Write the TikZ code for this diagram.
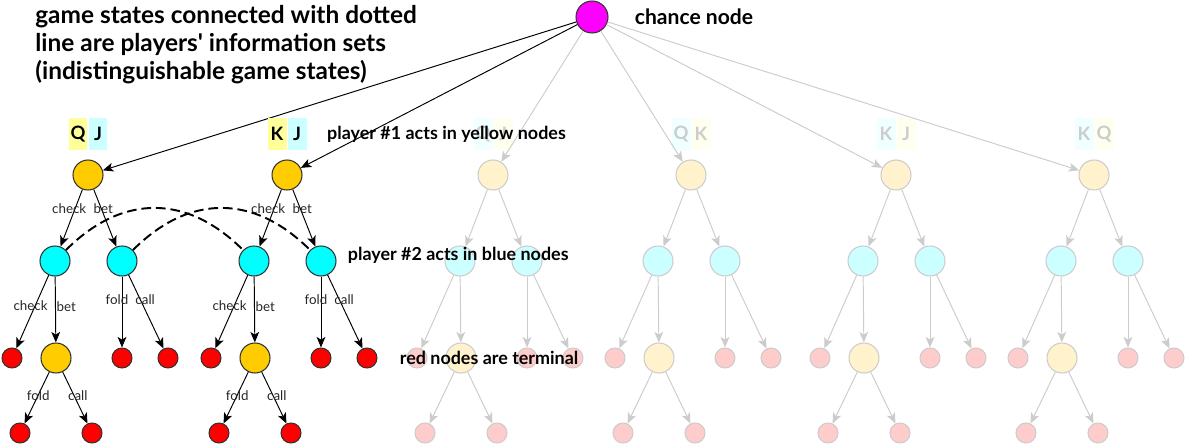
\documentclass[tikz,border=0pt]{standalone}
\usepackage{fontspec}
\setmainfont{Lato}
\usetikzlibrary{arrows.meta, positioning}
\definecolor{chancecol}{HTML}{FF00FF}
\definecolor{yellowfull}{HTML}{FFCC00}
\definecolor{bluefull}{HTML}{00FFFF}
\definecolor{redfull}{HTML}{FF0000}
\definecolor{yellowfade}{HTML}{FFF2CC}
\definecolor{bluefade}{HTML}{CCFFFF}
\definecolor{redfade}{HTML}{FFCCCC}
\definecolor{cardyel}{HTML}{FFFF99}
\definecolor{cardblue}{HTML}{CCFFFF}
\definecolor{cardyelfade}{HTML}{FFFFF0}
\definecolor{cardbluefade}{HTML}{F0FFFF}
\definecolor{fadeline}{HTML}{CCCCCC}
\definecolor{nodeline}{HTML}{333333}

\tikzset{
  dot/.style={circle, line width=0.6pt, inner sep=0pt},
  card/.style={minimum width=0.38cm, minimum height=0.66cm, inner sep=0pt, font=\bfseries\fontsize{10.5}{11}\selectfont},
  full/.style={
    p1/.style={dot, minimum size=0.6cm, draw=nodeline, fill=yellowfull},
    p2/.style={dot, minimum size=0.6cm, draw=nodeline, fill=bluefull},
    leaf/.style={dot, minimum size=0.4cm, draw=nodeline, fill=redfull},
    move/.style={line width=0.55pt, -{Stealth[length=6pt, width=5pt, inset=1.5pt]}},
    cardl/.style={card, fill=cardyel},
    cardr/.style={card, fill=cardblue},
  },
  fade/.style={
    p1/.style={dot, minimum size=0.6cm, draw=fadeline, fill=yellowfade},
    p2/.style={dot, minimum size=0.6cm, draw=fadeline, fill=bluefade},
    leaf/.style={dot, minimum size=0.4cm, draw=fadeline, fill=redfade},
    move/.style={line width=0.55pt, draw=fadeline, -{Stealth[length=6pt, width=5pt, inset=1.5pt]}},
    cardl/.style={card, fill=cardbluefade, text=fadeline},
    cardr/.style={card, fill=cardyelfade, text=fadeline},
  },
  act/.style={font=\fontsize{7.6}{8}\selectfont, text=black!85, inner sep=0.5pt},
  hint/.style={font=\bfseries\fontsize{10.2}{11}\selectfont, inner sep=0pt},
  infoset/.style={line width=1.1pt, dash pattern=on 5.5pt off 2.8pt},
}

\begin{document}
\begin{tikzpicture}[x=0.02cm, y=-0.02cm]
\useasboundingbox (0,0) rectangle (1187,446);

\node[dot, minimum size=0.64cm, draw=nodeline, fill=chancecol] (chance) at (592,17) {};

% one subtree per deal of cards
\foreach \x/\ca/\cb/\m [count=\i] in {88/Q/J/full, 287/K/J/full, 493/Q/J/fade, 691/Q/K/fade, 896/K/J/fade, 1094/K/Q/fade}{
  \begin{scope}[\m]
    \node[cardl] (cl\i) at (\x-10,134) {\ca};
    \node[cardr] (cr\i) at (\x+10,134) {\cb};
    \node[p1] (r\i) at (\x,175) {};
    \node[p2] (bl\i) at (\x-33,261) {};
    \node[p2] (br\i) at (\x+34,261) {};
    \node[leaf] (ta\i) at (\x-76,358) {};
    \node[p1] (m\i) at (\x-32,358) {};
    \node[leaf] (tb\i) at (\x+34,358) {};
    \node[leaf] (tc\i) at (\x+80,358) {};
    \node[leaf] (td\i) at (\x-68,433) {};
    \node[leaf] (te\i) at (\x+4,433) {};
    \draw[move] (chance) -- (r\i);
    \draw[move] (r\i) -- (bl\i);
    \draw[move] (r\i) -- (br\i);
    \draw[move] (bl\i) -- (ta\i);
    \draw[move] (bl\i) -- (m\i);
    \draw[move] (br\i) -- (tb\i);
    \draw[move] (br\i) -- (tc\i);
    \draw[move] (m\i) -- (td\i);
    \draw[move] (m\i) -- (te\i);
    \ifnum\i<3
      \path (r\i) -- (bl\i) node[act, pos=.33, xshift=-0.12cm] {check};
      \path (r\i) -- (br\i) node[act, pos=.33, xshift=0.04cm] {bet};
      \path (bl\i) -- (ta\i) node[act, pos=.42, xshift=-0.09cm] {check};
      \path (bl\i) -- (m\i) node[act, pos=.45, right] {bet};
      \path (br\i) -- (tb\i) node[act, pos=.32, xshift=-0.1cm] {fold};
      \path (br\i) -- (tc\i) node[act, pos=.33, xshift=0.1cm] {call};
      \path (m\i) -- (td\i) node[act, pos=.45] {fold};
      \path (m\i) -- (te\i) node[act, pos=.45, xshift=0.08cm] {call};
    \fi
  \end{scope}
}

% information sets
\draw[infoset] (bl1) to[out=45, in=135, looseness=1.15] (bl2);
\draw[infoset] (br1) to[out=45, in=135, looseness=1.15] (br2);

\node[font=\bfseries\fontsize{13.9}{16}\selectfont, align=left, anchor=north west, inner sep=0pt] (note) at (35,5)
  {game states connected with dotted\\line are players\textquotesingle{} information sets\\(indistinguishable game states)};
\node[hint, font=\bfseries\fontsize{12}{13}\selectfont, right=0.52cm of chance] (chancetxt) {chance node};
\node[hint, right=0.4cm of cr2] (p1txt) {player \#1 acts in yellow nodes};
\node[hint, right=0.22cm of br2, yshift=0.12cm] (p2txt) {player \#2 acts in blue nodes};
\node[hint, right=0.44cm of tc2] (termtxt) {red nodes are terminal};
\end{tikzpicture}
\end{document}
